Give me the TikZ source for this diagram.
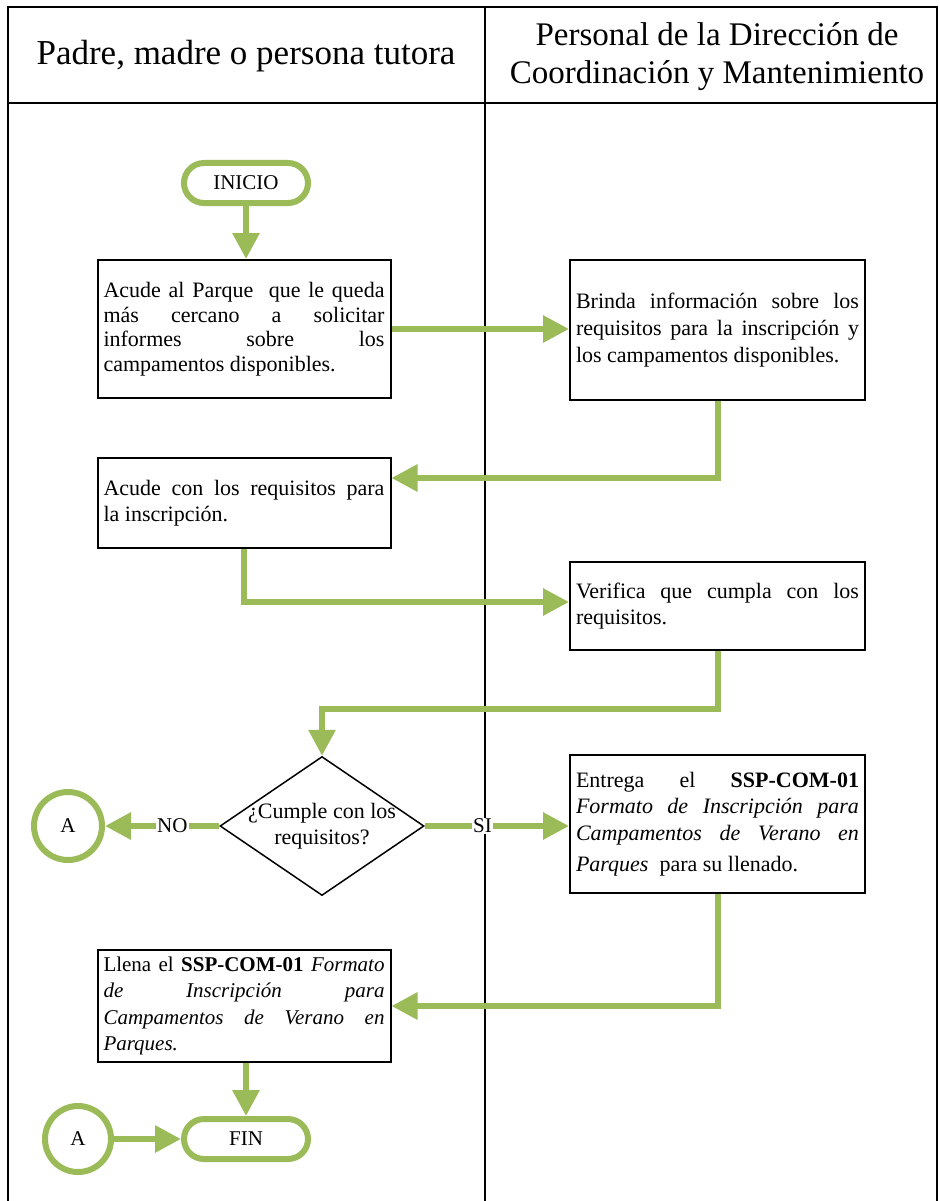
\documentclass[tikz,border=0pt]{standalone}
\usepackage{fontspec}
\setmainfont{Liberation Serif}
\usetikzlibrary{arrows.meta,shapes.geometric}
\definecolor{vg}{HTML}{9BBB59}
\begin{document}
\begin{tikzpicture}[x=1pt,y=-1pt,
  frame/.style={line width=2pt, black},
  head/.style={font=\fontsize{33}{38}\selectfont, align=center},
  proc/.style={draw=black, line width=2pt, rectangle, text width=281pt, inner sep=6pt, align=justify, font=\fontsize{22}{26}\selectfont},
  term/.style={draw=vg, line width=6pt, rectangle, rounded corners=20pt, minimum width=124pt, minimum height=40pt, font=\fontsize{21}{24}\selectfont},
  conn/.style={draw=vg, line width=6pt, circle, inner sep=0pt, font=\fontsize{21}{24}\selectfont},
  dia/.style={draw=black, line width=1.5pt, diamond, aspect=1.47, inner sep=-5pt, minimum width=204pt, minimum height=139pt, align=center, font=\fontsize{22}{26}\selectfont},
  flow/.style={draw=vg, line width=6pt, -{Triangle[length=26pt,width=26pt]}},
  lbl/.style={fill=white, inner sep=1pt, font=\fontsize{21}{24}\selectfont}
]
\useasboundingbox (0,0) rectangle (939,1201);
\fill[white] (0,0) rectangle (939,1201);
% frame
\draw[frame] (8,1201) -- (8,7) -- (937,7) -- (937,1201);
\draw[frame] (8,103) -- (937,103);
\draw[frame] (485,7) -- (485,1201);
% headers
\node[head, font=\fontsize{35}{38}\selectfont] (h1) at (246,56) {Padre, madre o persona tutora};
\node[head] (h2) at (717,57) {Personal de la Dirección de\\Coordinación y Mantenimiento};
% nodes
\node[term] (ini) at (246,183) {INICIO};
\node[proc, minimum height=138pt, font=\fontsize{22}{24.5}\selectfont] (b1) at (244,329) {Acude al Parque\ \ que le queda\linebreak más cercano a solicitar\linebreak informes sobre los\linebreak campamentos disponibles.};
\node[proc, minimum height=140pt, text width=283pt, font=\fontsize{22}{27}\selectfont] (b2) at (717.5,330) {Brinda información sobre los\linebreak requisitos para la inscripción y\linebreak los campamentos disponibles.};
\node[proc, minimum height=90pt] (b3) at (244,503) {Acude con los requisitos para\linebreak la inscripción.};
\node[proc, minimum height=88pt, text width=283pt] (b4) at (717.5,606) {Verifica que cumpla con los\linebreak requisitos.};
\node[dia] (d) at (322,826) {¿Cumple con los\\requisitos?};
\node[conn, minimum size=68pt] (a1) at (68,826) {A};
\node[proc, minimum height=138pt, text width=283pt, font=\fontsize{22}{26.5}\selectfont] (b5) at (717.5,824) {Entrega el \textbf{SSP-COM-01}\linebreak \textit{Formato de Inscripción para}\linebreak \textit{Campamentos de Verano en}\vadjust{\vskip5pt}\linebreak \textit{Parques}\ \ para su llenado.};
\node[proc, minimum height=112pt, font=\fontsize{21}{26.5}\selectfont] (b6) at (244,1006) {Llena el \textbf{SSP-COM-01} \textit{Formato}\linebreak \textit{de Inscripción para}\linebreak \textit{Campamentos de Verano en}\linebreak \textit{Parques.}};
\node[term] (fin) at (246,1139) {FIN};
\node[conn, minimum size=66pt] (a2) at (78,1139) {A};
% connectors
\draw[flow] (ini) -- (ini |- b1.north);
\draw[flow] (b1.east) -- (b1.east -| b2.west);
\draw[flow] (b2.south) |- ([yshift=25pt]b3.east);
\draw[flow] (b3.south) |- ([yshift=4pt]b4.west);
\draw[flow] (b4.south) -- ++(0,58) -| (d.north);
\draw[flow] (d.west) -- node[lbl, pos=0.41] {NO} (a1.east);
\draw[flow] (d.east) -- node[lbl, pos=0.4] {SI} (d.east -| b5.west);
\draw[flow] (b5.south) |- (b6.east);
\draw[flow] (fin |- b6.south) -- (fin.north);
\draw[flow] (a2.east) -- (fin.west);
\end{tikzpicture}
\end{document}
